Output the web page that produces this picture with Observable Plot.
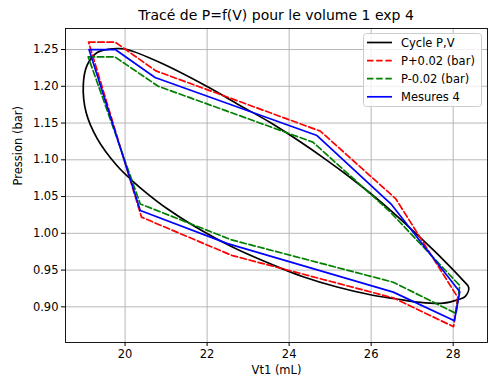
<!DOCTYPE html>
<html><head><meta charset="utf-8">
<script src="https://cdn.jsdelivr.net/npm/d3@7"></script>
<script src="https://cdn.jsdelivr.net/npm/@observablehq/plot@0.6"></script>
<style>
body{margin:0;background:#fff;font-family:"DejaVu Sans",sans-serif;}
#wrap{position:relative;width:490px;height:383px;overflow:hidden;background:#fff;}
#title{height:27px;box-sizing:border-box;padding:5px 3px 0 65px;text-align:center;font-size:14px;line-height:20px;color:#000;white-space:nowrap;}
#legend{position:absolute;left:363px;top:33px;}
</style>
</head><body>
<div id="wrap">
  <div id="title">Tracé de P=f(V) pour le volume 1 exp 4</div>
  <div id="chart"></div>
  <div id="legend"></div>
</div>
<script>
// ---- data ----
const xTicks = [20, 22, 24, 26, 28];
const yTicks = [0.90, 0.95, 1.00, 1.05, 1.10, 1.15, 1.20, 1.25];

const cycleV = [19.83,20.05,20.85,22.00,22.80,23.54,24.27,24.88,25.49,25.98,26.59,27.20,27.76,28.24,28.38,28.29,28.10,27.76,27.20,26.59,25.98,25.17,24.34,23.78,22.63,21.66,21.02,20.54,20.17,19.80,19.32,19.05,18.98,19.07,19.32,19.63];
const cycleP = [1.2514,1.2500,1.2323,1.1997,1.1740,1.1507,1.1245,1.1010,1.0760,1.0545,1.0255,0.9940,0.9640,0.9360,0.9262,0.9140,0.9095,0.9050,0.9060,0.9110,0.9165,0.9270,0.9410,0.9530,0.9810,1.0106,1.0337,1.0541,1.0718,1.0922,1.1289,1.1643,1.2010,1.2282,1.2459,1.2507];

const plusV  = [19.11,19.76,20.75,24.76,26.60,28.11,28.01,26.55,22.60,20.40,19.11];
const plusP  = [1.260,1.260,1.221,1.139,1.047,0.913,0.873,0.912,0.970,1.022,1.260];

const minusV = [19.10,19.75,20.81,24.58,26.45,28.16,28.07,26.54,22.60,20.37,19.10];
const minusP = [1.240,1.240,1.200,1.124,1.030,0.929,0.891,0.9335,0.991,1.040,1.240];

const mesV   = [19.12,19.76,20.73,24.68,26.50,28.16,28.03,26.54,22.50,20.37,19.12];
const mesP   = [1.250,1.250,1.212,1.133,1.039,0.9205,0.881,0.920,0.986,1.031,1.250];

const seriesNames  = ["Cycle P,V", "P+0.02 (bar)", "P-0.02 (bar)", "Mesures 4"];
const seriesColors = ["#000000", "#ff0000", "#008000", "#0000ff"];
const seriesDashed = [false, true, true, false];

// ---- build tables ----
const toRows = (vs, ps) => vs.map((v, i) => ({v, p: ps[i]}));
const cycle = toRows(cycleV, cycleP);
const plus = toRows(plusV, plusP);
const minus = toRows(minusV, minusP);
const mes = toRows(mesV, mesP);

const LW = 1.7, DASH = "6.4,2.8";
const font = '"DejaVu Sans", sans-serif';

const chart = Plot.plot({
  width: 490, height: 356,
  marginTop: 1, marginBottom: 41, marginLeft: 65, marginRight: 3,
  style: {fontFamily: font, fontSize: "11.5px", background: "white", color: "black"},
  x: {domain: [18.547, 28.837], ticks: xTicks, tickSize: 4, tickPadding: 3, label: null},
  y: {domain: [0.8515, 1.2786], ticks: yTicks, tickFormat: d3.format(".2f"), tickSize: 4, tickPadding: 3, label: null},
  marks: [
    Plot.ruleX(xTicks, {stroke: "#b0b0b0", strokeWidth: 0.9}),
    Plot.ruleY(yTicks, {stroke: "#b0b0b0", strokeWidth: 0.9}),
    Plot.line(cycle, {x: "v", y: "p", curve: "catmull-rom-closed", stroke: seriesColors[0], strokeWidth: LW}),
    Plot.line(plus, {x: "v", y: "p", stroke: seriesColors[1], strokeWidth: LW, strokeDasharray: DASH}),
    Plot.line(minus, {x: "v", y: "p", stroke: seriesColors[2], strokeWidth: LW, strokeDasharray: DASH}),
    Plot.line(mes, {x: "v", y: "p", stroke: seriesColors[3], strokeWidth: LW}),
    Plot.frame({stroke: "#000", strokeWidth: 0.9}),
    Plot.text(["Vt1 (mL)"], {frameAnchor: "bottom", dy: 31, fontSize: 11.5, fill: "#000"}),
    Plot.text(["Pression (bar)"], {frameAnchor: "left", rotate: -90, dx: -47, fontSize: 11.5, fill: "#000"})
  ]
});
document.getElementById("chart").appendChild(chart);

// ---- legend ----
const lw = 119, lh = 74;
const leg = d3.select("#legend").append("svg").attr("width", lw).attr("height", lh)
  .style("font-family", font).style("font-size", "11.5px");
leg.append("rect").attr("x", 0.5).attr("y", 0.5).attr("width", lw - 1).attr("height", lh - 1)
  .attr("rx", 3).attr("fill", "rgba(255,255,255,0.8)").attr("stroke", "#cccccc");
seriesNames.forEach((name, i) => {
  const cy = 9.5 + i * 18.1;
  leg.append("line").attr("x1", 4).attr("x2", 29).attr("y1", cy).attr("y2", cy)
    .attr("stroke", seriesColors[i]).attr("stroke-width", LW)
    .attr("stroke-dasharray", seriesDashed[i] ? DASH : null);
  leg.append("text").attr("x", 38).attr("y", cy).attr("dy", "0.35em").attr("fill", "#000").text(name);
});
</script>
</body></html>
